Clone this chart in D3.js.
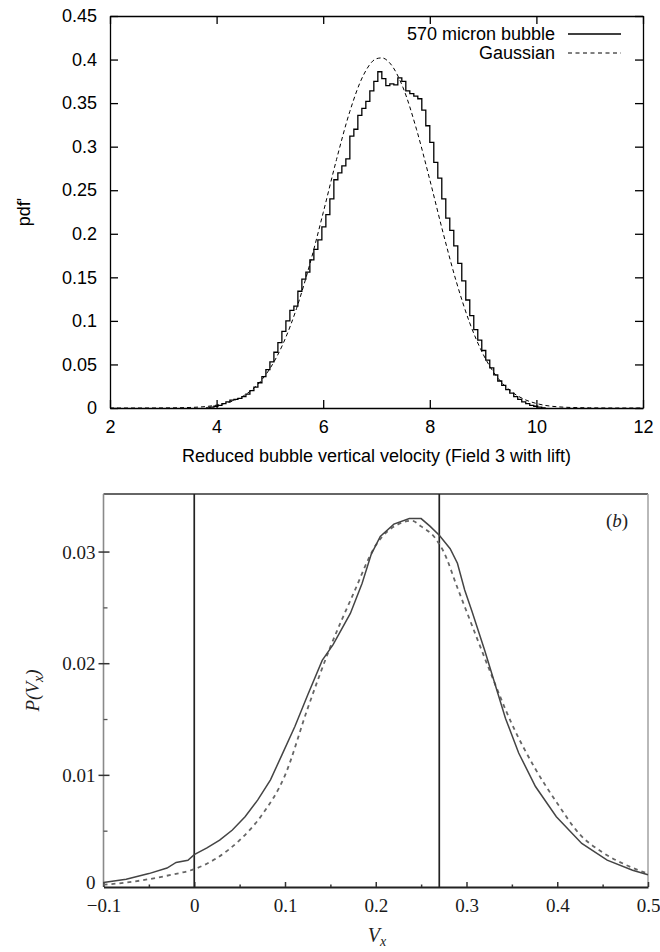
<!DOCTYPE html>
<html>
<head>
<meta charset="utf-8">
<script src="https://cdnjs.cloudflare.com/ajax/libs/d3/7.8.5/d3.min.js"></script>
<style>
  body { margin: 0; background: #fff; }
  .sans { font-family: "Liberation Sans", Arial, Helvetica, sans-serif; font-size: 18px; fill: #000; }
  .serif { font-family: "Liberation Serif", "Times New Roman", serif; font-size: 19px; fill: #222; }
</style>
</head>
<body>
<div id="chart"></div>
<script>
// ---- top panel data (histogram + gaussian fit)
var topXTicks = [2, 4, 6, 8, 10, 12];
var topYTicks = [0, 0.05, 0.1, 0.15, 0.2, 0.25, 0.3, 0.35, 0.4, 0.45];
var histStart = 3.8,
    histWidth = 0.075;
var histValues = [
  0.000, 0.001, 0.002, 0.003, 0.005, 0.007, 0.009, 0.010, 0.011, 0.013,
  0.016, 0.020, 0.024, 0.029, 0.036, 0.044, 0.053, 0.064, 0.075, 0.088,
  0.100, 0.112, 0.117, 0.134, 0.148, 0.156, 0.170, 0.182, 0.193, 0.208,
  0.222, 0.240, 0.262, 0.270, 0.278, 0.286, 0.312, 0.320, 0.336, 0.344,
  0.352, 0.364, 0.375, 0.386, 0.378, 0.370, 0.372, 0.371, 0.379, 0.375,
  0.364, 0.361, 0.358, 0.355, 0.342, 0.324, 0.305, 0.282, 0.264, 0.240,
  0.218, 0.204, 0.186, 0.166, 0.146, 0.124, 0.106, 0.090, 0.078, 0.066,
  0.055, 0.046, 0.038, 0.031, 0.026, 0.021, 0.017, 0.013, 0.010, 0.007,
  0.005, 0.003, 0.002, 0.001, 0.000
];
var gaussX = [2, 2.5, 3, 3.5, 4, 4.25, 4.5, 4.75, 5, 5.25, 5.5, 5.75, 6, 6.25, 6.5, 6.75,
              7, 7.1, 7.25, 7.5, 7.75, 8, 8.25, 8.5, 8.75, 9, 9.25, 9.5, 9.75, 10, 10.5, 11, 11.5, 12];
var gaussY = [0, 0, 0.0001, 0.0006, 0.0033, 0.0069, 0.0138, 0.0258, 0.0452, 0.0742, 0.1143, 0.1653,
              0.2242, 0.2853, 0.3405, 0.3815, 0.4010, 0.4019, 0.3960, 0.3675, 0.3200, 0.2620, 0.2010,
              0.1445, 0.0975, 0.0618, 0.0366, 0.0204, 0.0106, 0.0052, 0.0010, 0.0002, 0, 0];
var legendLabels = ["570 micron bubble", "Gaussian"];
var topXTitle = "Reduced bubble vertical velocity (Field 3 with lift)";
var topYTitle = "pdf'";

// ---- bottom panel data (P(Vx) curves)
var botXTicks = [-0.1, 0, 0.1, 0.2, 0.3, 0.4, 0.5];
var botXMinor = [-0.05, 0.05, 0.15, 0.25, 0.35, 0.45];
var botYTicks = [0, 0.01, 0.02, 0.03];
var botYMinor = [0.005, 0.015, 0.025];
var markerLines = [0, 0.27];
var solidX = [-0.1, -0.075, -0.05, -0.03, -0.02, -0.007, 0, 0.014, 0.028, 0.042, 0.056, 0.07, 0.084,
              0.097, 0.111, 0.125, 0.141, 0.153, 0.172, 0.185, 0.195, 0.205, 0.22, 0.237, 0.25, 0.26,
              0.27, 0.282, 0.29, 0.298, 0.306, 0.32, 0.343, 0.3575, 0.376, 0.399, 0.427, 0.455, 0.483, 0.5];
var solidY = [0.0004, 0.0007, 0.0012, 0.0017, 0.0022, 0.0024, 0.0029, 0.0035, 0.0042, 0.0051, 0.0063,
              0.0078, 0.0096, 0.0119, 0.0144, 0.0172, 0.0203, 0.0217, 0.0245, 0.0272, 0.0298, 0.0314,
              0.0325, 0.0330, 0.0330, 0.0323, 0.0315, 0.0303, 0.0290, 0.0266, 0.0247, 0.0212, 0.0151,
              0.0120, 0.0090, 0.0063, 0.0039, 0.0024, 0.0015, 0.0011];
var dashX = [-0.1, -0.075, -0.05, -0.025, 0, 0.025, 0.05, 0.075, 0.1, 0.125, 0.15, 0.175, 0.2, 0.225,
             0.24, 0.25, 0.265, 0.275, 0.29, 0.3, 0.325, 0.35, 0.375, 0.4, 0.425, 0.45, 0.475, 0.5];
var dashY = [0.0002, 0.0004, 0.0007, 0.0011, 0.0016, 0.0026, 0.0042, 0.0065, 0.0100, 0.0160, 0.0215,
             0.0262, 0.0306, 0.0325, 0.0328, 0.0323, 0.0313, 0.0300, 0.0268, 0.0247, 0.0195, 0.0146,
             0.0107, 0.0075, 0.0047, 0.0031, 0.0020, 0.0012];

var fmt = d3.format("~g");

var svg = d3.select("#chart")
    .append("svg")
    .attr("width", 660)
    .attr("height", 952);

svg.append("rect").attr("width", 660).attr("height", 952).attr("fill", "#fff");

// ================= top panel =================
var x1 = d3.scaleLinear().domain([2, 12]).range([110, 643]);
var y1 = d3.scaleLinear().domain([0, 0.45]).range([408, 16]);

var topPanel = svg.append("g");

topPanel.append("g")
    .attr("transform", "translate(0," + y1(0) + ")")
    .call(d3.axisBottom(x1).tickValues(topXTicks).tickSizeInner(-8).tickSizeOuter(0).tickPadding(12).tickFormat(fmt));
topPanel.append("g")
    .attr("transform", "translate(0," + y1(0.45) + ")")
    .call(d3.axisTop(x1).tickValues(topXTicks).tickSizeInner(-8).tickSizeOuter(0).tickFormat(""));
topPanel.append("g")
    .attr("transform", "translate(" + x1(2) + ",0)")
    .call(d3.axisLeft(y1).tickValues(topYTicks).tickSizeInner(-8).tickSizeOuter(0).tickPadding(13).tickFormat(fmt));
topPanel.append("g")
    .attr("transform", "translate(" + x1(12) + ",0)")
    .call(d3.axisRight(y1).tickValues(topYTicks).tickSizeInner(-8).tickSizeOuter(0).tickFormat(""));

topPanel.selectAll(".domain, .tick line").attr("stroke", "#000").attr("stroke-width", 1.3);
topPanel.selectAll(".tick text")
    .attr("font-family", "Liberation Sans, Arial, sans-serif")
    .attr("font-size", 18)
    .attr("fill", "#000");

// histogram as a step line
var histPts = [{x: histStart, v: 0}];
histValues.forEach(function(v, i) {
    histPts.push({x: histStart + i * histWidth, v: v});
});
var histEnd = histStart + histValues.length * histWidth;
histPts.push({x: histEnd, v: histValues[histValues.length - 1]});
histPts.push({x: histEnd, v: 0});

var stepLine = d3.line()
    .x(function(d) { return x1(d.x); })
    .y(function(d) { return y1(d.v); })
    .curve(d3.curveStepAfter);

topPanel.append("path")
    .datum(histPts)
    .attr("d", stepLine)
    .attr("fill", "none")
    .attr("stroke", "#000")
    .attr("stroke-width", 1.3);

// gaussian (dashed)
var gaussLine = d3.line()
    .x(function(d, i) { return x1(gaussX[i]); })
    .y(function(d) { return y1(d); })
    .curve(d3.curveMonotoneX);

topPanel.append("path")
    .datum(gaussY)
    .attr("d", gaussLine)
    .attr("fill", "none")
    .attr("stroke", "#000")
    .attr("stroke-width", 1)
    .attr("stroke-dasharray", "4,3");

// legend
legendLabels.forEach(function(lab, i) {
    var ly = 34 + i * 19;
    topPanel.append("text")
        .attr("class", "sans")
        .attr("x", 555)
        .attr("y", ly)
        .attr("dy", "0.35em")
        .attr("text-anchor", "end")
        .text(lab);
    topPanel.append("line")
        .attr("x1", 568).attr("x2", 621)
        .attr("y1", ly).attr("y2", ly)
        .attr("stroke", "#000")
        .attr("stroke-width", i == 0 ? 1.3 : 1)
        .attr("stroke-dasharray", i == 0 ? null : "4,3.5");
});

// axis titles
topPanel.append("text")
    .attr("class", "sans")
    .attr("x", (x1(2) + x1(12)) / 2)
    .attr("y", 462)
    .attr("text-anchor", "middle")
    .text(topXTitle);
topPanel.append("text")
    .attr("class", "sans")
    .attr("transform", "translate(24," + ((y1(0) + y1(0.45)) / 2) + ") rotate(-90)")
    .attr("dy", "0.35em")
    .attr("text-anchor", "middle")
    .text(topYTitle);

// ================= bottom panel =================
var x2 = d3.scaleLinear().domain([-0.1, 0.5]).range([103.5, 648]);
var y2 = d3.scaleLinear().domain([0, 0.0352]).range([887, 494]);

var botPanel = svg.append("g");

// frame: top dark, sides grey
botPanel.append("line")
    .attr("x1", x2(-0.1)).attr("x2", x2(0.5))
    .attr("y1", y2(0.0352)).attr("y2", y2(0.0352))
    .attr("stroke", "#333").attr("stroke-width", 1.6);
botPanel.append("line")
    .attr("x1", x2(-0.1)).attr("x2", x2(-0.1))
    .attr("y1", y2(0.0352)).attr("y2", y2(0))
    .attr("stroke", "#8a8a8a").attr("stroke-width", 1.6);
botPanel.append("line")
    .attr("x1", x2(0.5)).attr("x2", x2(0.5))
    .attr("y1", y2(0.0352)).attr("y2", y2(0))
    .attr("stroke", "#a8a8a8").attr("stroke-width", 1.6);

// bottom axis with labels + minor ticks
botPanel.append("g")
    .attr("transform", "translate(0," + y2(0) + ")")
    .call(d3.axisBottom(x2).tickValues(botXTicks).tickSizeInner(-5).tickSizeOuter(0).tickPadding(12).tickFormat(fmt));
botPanel.append("g")
    .attr("transform", "translate(0," + y2(0) + ")")
    .call(d3.axisBottom(x2).tickValues(botXMinor).tickSizeInner(-2.5).tickSizeOuter(0).tickFormat(""))
    .select(".domain").remove();
botPanel.selectAll(".domain").attr("stroke", "#222").attr("stroke-width", 2);
botPanel.selectAll(".tick line").attr("stroke", "#333").attr("stroke-width", 1.5);

// left labels
var by = botPanel.append("g")
    .attr("transform", "translate(" + x2(-0.1) + ",0)")
    .call(d3.axisLeft(y2).tickValues(botYTicks).tickSize(0).tickPadding(8).tickFormat(fmt));
by.select(".domain").remove();

botPanel.selectAll(".tick text")
    .attr("font-family", "Liberation Serif, Times New Roman, serif")
    .attr("font-size", 19)
    .attr("fill", "#1a1a1a");

// nudge the corner "0" up so it clears the -0.1 label
by.selectAll(".tick text")
    .filter(function(d) { return d === 0; })
    .attr("dy", "0.1em");

// left major ticks crossing the axis, minor ticks inside
botPanel.selectAll(".ymaj")
    .data(botYTicks.slice(1))
    .enter().append("line")
    .attr("x1", x2(-0.1) - 5).attr("x2", x2(-0.1) + 6)
    .attr("y1", function(d) { return y2(d); })
    .attr("y2", function(d) { return y2(d); })
    .attr("stroke", "#333").attr("stroke-width", 1.5);
botPanel.selectAll(".ymin")
    .data(botYMinor)
    .enter().append("line")
    .attr("x1", x2(-0.1)).attr("x2", x2(-0.1) + 4)
    .attr("y1", function(d) { return y2(d); })
    .attr("y2", function(d) { return y2(d); })
    .attr("stroke", "#555").attr("stroke-width", 1.3);

// vertical reference lines
botPanel.selectAll(".vline")
    .data(markerLines)
    .enter().append("line")
    .attr("x1", function(d) { return x2(d); })
    .attr("x2", function(d) { return x2(d); })
    .attr("y1", y2(0.0352))
    .attr("y2", y2(0))
    .attr("stroke", "#222")
    .attr("stroke-width", 1.7);

// curves
var dashLine = d3.line()
    .x(function(d, i) { return x2(dashX[i]); })
    .y(function(d) { return y2(d); })
    .curve(d3.curveMonotoneX);
var solidLine = d3.line()
    .x(function(d, i) { return x2(solidX[i]); })
    .y(function(d) { return y2(d); });

botPanel.append("path")
    .datum(dashY)
    .attr("d", dashLine)
    .attr("fill", "none")
    .attr("stroke", "#666")
    .attr("stroke-width", 1.8)
    .attr("stroke-dasharray", "4,4");
botPanel.append("path")
    .datum(solidY)
    .attr("d", solidLine)
    .attr("fill", "none")
    .attr("stroke", "#444")
    .attr("stroke-width", 1.5);

// labels
var pl = botPanel.append("text")
    .attr("class", "serif")
    .attr("transform", "translate(32," + ((y2(0) + y2(0.0352)) / 2) + ") rotate(-90)")
    .attr("dy", "0.35em")
    .attr("text-anchor", "middle")
    .attr("font-style", "italic")
    .attr("font-size", 20);
pl.append("tspan").text("P(V");
pl.append("tspan").attr("font-size", 14).attr("dy", 4).text("x");
pl.append("tspan").attr("dy", -4).text(")");

var vx = botPanel.append("text")
    .attr("class", "serif")
    .attr("x", 377)
    .attr("y", 942)
    .attr("text-anchor", "middle")
    .attr("font-style", "italic");
vx.append("tspan").attr("font-size", 20).text("V");
vx.append("tspan").attr("font-size", 14).attr("dy", 4).text("x");

var lb = botPanel.append("text")
    .attr("class", "serif")
    .attr("x", 617)
    .attr("y", 527)
    .attr("text-anchor", "middle");
lb.append("tspan").text("(");
lb.append("tspan").attr("font-style", "italic").text("b");
lb.append("tspan").text(")");
</script>
</body>
</html>
